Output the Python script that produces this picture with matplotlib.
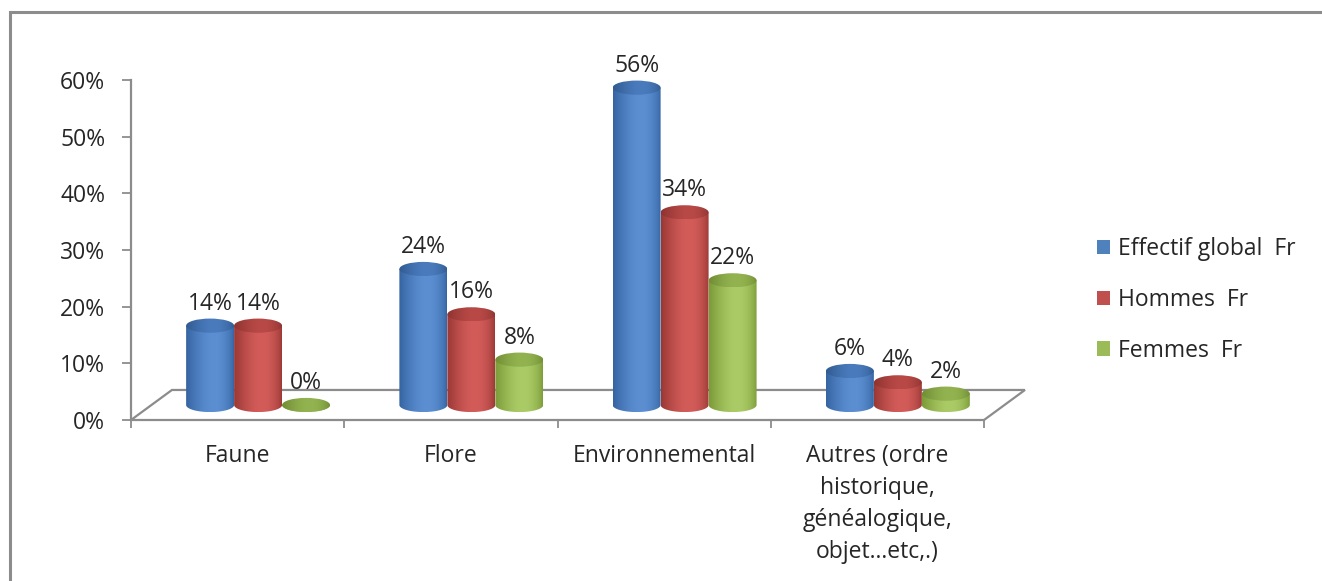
import numpy as np
import matplotlib
matplotlib.use('Agg')
import matplotlib.pyplot as plt
from matplotlib.patches import Ellipse, Polygon, Patch, PathPatch, Rectangle
from matplotlib.path import Path
from matplotlib.ticker import FixedLocator, NullFormatter

categories = ['Faune', 'Flore', 'Environnemental',
              'Autres (ordre\nhistorique,\ngénéalogique,\nobjet…etc,.)']
series = ['Effectif global  Fr', 'Hommes  Fr', 'Femmes  Fr']
global_fr = [0.14, 0.24, 0.56, 0.06]
hommes_fr = [0.14, 0.16, 0.34, 0.04]
femmes_fr = [0.00, 0.08, 0.22, 0.02]
y_ticks = [0.0, 0.1, 0.2, 0.3, 0.4, 0.5, 0.6]

# (light, dark, top-light, top-dark)
palette = [
    ('#5b8fd2', '#3563a0', '#4a7bbd', '#30598f'),
    ('#d35c59', '#983734', '#b84946', '#8c3330'),
    ('#aacb66', '#7a9937', '#93b350', '#6f8c33'),
]
legend_colors = ['#4f81bd', '#c0504d', '#9bbb59']

FONT = 'Open Sans'
FS = 16.5
GRAY = '#8c8c8c'

W, H = 1322, 581
fig = plt.figure(figsize=(W / 100, H / 100), dpi=100)
ax = fig.add_axes([131 / W, 1 - 420 / H, (984 - 131) / W, 340 / H])
ax.set_facecolor('none')

# 3D depth offset of the floor (data units)
dx, dy = 0.192, 0.053
bar_w = 0.225
ry = 0.0125


def hexrgb(h):
    return np.array(matplotlib.colors.to_rgb(h))


def grad(light, dark, n=200):
    u = np.linspace(0, 1, n)
    s = np.sin(np.pi * u ** 1.3) ** 0.7
    c = hexrgb(dark)[None, :] + (hexrgb(light) - hexrgb(dark))[None, :] * s[:, None]
    return c[None, :, :]


def cylinder(xc, base, val, cols, z):
    light, dark, tlight, tdark = cols
    top = base + val
    xl, xr = xc - bar_w / 2, xc + bar_w / 2
    th = np.linspace(np.pi, 2 * np.pi, 60)
    bottom = np.column_stack([xc + bar_w / 2 * np.cos(th), base + ry * np.sin(th)])
    verts = [(xl, top)] + [tuple(p) for p in bottom] + [(xr, top), (xl, top)]
    body = PathPatch(Path(verts), transform=ax.transData, fc='none', ec='none')
    ax.add_patch(body)
    im = ax.imshow(grad(light, dark), extent=[xl, xr, base - ry, top + ry],
                   aspect='auto', zorder=z, interpolation='bilinear')
    im.set_clip_path(body)
    cap = Ellipse((xc, top), bar_w, 2 * ry, transform=ax.transData, fc='none', ec='none')
    ax.add_patch(cap)
    im2 = ax.imshow(grad(tlight, tdark), extent=[xl, xr, top - ry, top + ry],
                    aspect='auto', zorder=z + 0.5, interpolation='bilinear')
    im2.set_clip_path(cap)
    return top


# floor
floor = Polygon([(0, 0), (4, 0), (4 + dx, dy), (dx, dy)], closed=True, fill=False,
                ec=GRAY, lw=1.6, clip_on=False, zorder=1)
ax.add_patch(floor)

all_series = [global_fr, hommes_fr, femmes_fr]
z = 3
for i in range(len(categories)):
    center = i + 0.5 + dx / 2
    for k, vals in enumerate(all_series):
        xc = center + (k - 1) * bar_w
        top = cylinder(xc, dy / 2, vals[i], palette[k], z)
        z += 1
        ax.text(xc + 0.0, top + 0.039, '{:.0%}'.format(vals[i]), ha='center', va='center',
                fontsize=FS, family=FONT, color='#262626', zorder=50)

ax.set_xlim(0, 4)
ax.set_ylim(0, 0.6)

for side in ['top', 'right', 'bottom']:
    ax.spines[side].set_visible(False)
ax.spines['left'].set_color(GRAY)
ax.spines['left'].set_linewidth(1.6)

ax.set_yticks(y_ticks)
ax.set_yticklabels(['{:.0%}'.format(t) for t in y_ticks])
ax.tick_params(axis='y', length=6.5, width=1.3, color=GRAY, pad=12, labelsize=FS,
               labelcolor='#262626')

ax.xaxis.set_major_locator(FixedLocator([0, 1, 2, 3, 4]))
ax.xaxis.set_major_formatter(NullFormatter())
ax.xaxis.set_minor_locator(FixedLocator([0.5, 1.5, 2.5, 3.5]))
ax.set_xticklabels(categories, minor=True, linespacing=1.45, va='top')
ax.tick_params(axis='x', which='major', length=5.5, width=1.3, color=GRAY)
ax.tick_params(axis='x', which='minor', length=0, pad=17, labelsize=FS, labelcolor='#262626')

for lab in ax.get_xticklabels(minor=True) + ax.get_yticklabels():
    lab.set_family(FONT)

handles = [Patch(facecolor=c, edgecolor='none') for c in legend_colors]
fig.legend(handles, series, loc='center left', bbox_to_anchor=(1076 / W, 1 - 300 / H),
           frameon=False, handlelength=0.58, handleheight=0.58, handletextpad=0.35,
           labelspacing=1.16, prop={'family': FONT, 'size': FS}, labelcolor='#262626')

# chart area border
fig.patches.append(Rectangle((10 / W, -0.2), 1.2, 1.2 - 12 / H + 0.0, transform=fig.transFigure,
                             fill=False, ec=GRAY, lw=2.2, figure=fig))

fig.savefig('out.png', dpi=100)
